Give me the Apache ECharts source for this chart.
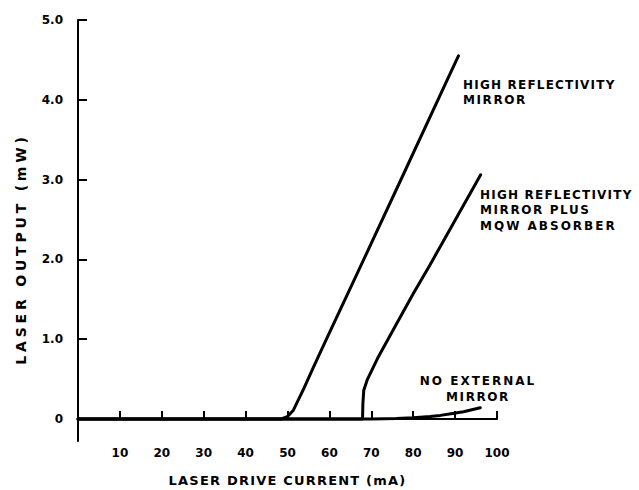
<!DOCTYPE html>
<html>
<head>
<meta charset="utf-8">
<script src="https://cdn.jsdelivr.net/npm/echarts@6/dist/echarts.min.js"></script>
<style>
  html, body { margin: 0; padding: 0; background: #fff; }
  #chart { width: 639px; height: 490px; }
</style>
</head>
<body>
<div id="chart"></div>
<script>
// ---- data ----
const xTicks = [0, 10, 20, 30, 40, 50, 60, 70, 80, 90, 100];
const yTicks = [0, 1, 2, 3, 4, 5];

const highReflectivity = [
  [0, 0], [48.5, 0], [50, 0.03], [51.4, 0.11], [53.8, 0.37], [56.2, 0.65],
  [59.1, 0.98], [66.7, 1.83], [77.7, 3.07], [88.4, 4.28], [90.8, 4.55]
];
const highReflectivityMqw = [
  [0, 0], [67.9, 0], [68.0, 0.2], [68.2, 0.36], [69.1, 0.5], [71.5, 0.76],
  [73.8, 0.98], [76.2, 1.21], [80, 1.57], [84.1, 1.94], [90, 2.49], [96.1, 3.06]
];
const noExternalMirror = [
  [0, 0], [70, 0], [76, 0.005], [80, 0.015], [84, 0.03], [86.5, 0.045],
  [89, 0.065], [92, 0.09], [94, 0.115], [96, 0.14]
];

const FONT = 'DejaVu Sans';
const chart = echarts.init(document.getElementById('chart'), null, { renderer: 'svg' });

const lineSeries = (name, data) => ({
  name, type: 'line', data, showSymbol: false, symbol: 'none',
  lineStyle: { color: '#000', width: 3, join: 'round', cap: 'round' },
  animation: false, silent: true
});

chart.setOption({
  animation: false,
  grid: { left: 78, right: 142, top: 20, bottom: 49, containLabel: false, outerBoundsMode: 'none' },
  xAxis: {
    type: 'value', min: 0, max: 100, interval: 10,
    name: 'LASER DRIVE CURRENT (mA)', nameLocation: 'middle', nameGap: 33,
    nameTextStyle: { fontFamily: FONT, fontWeight: 'bold', fontSize: 13, color: '#000' },
    axisLine: { show: true, lineStyle: { color: '#000', width: 2 } },
    axisTick: { show: true, inside: true, length: 8, lineStyle: { color: '#000', width: 2 } },
    axisLabel: {
      margin: 6, fontFamily: FONT, fontWeight: 'bold', fontSize: 12, color: '#000',
      formatter: v => (v === 0 ? '' : String(v))
    },
    splitLine: { show: false }
  },
  yAxis: {
    type: 'value', min: -0.276, max: 5,
    axisLine: { show: true, lineStyle: { color: '#000', width: 2 } },
    axisTick: { show: true, inside: true, length: 9, customValues: yTicks, lineStyle: { color: '#000', width: 2 } },
    axisLabel: {
      margin: 15, fontFamily: FONT, fontWeight: 'bold', fontSize: 12, color: '#000',
      customValues: yTicks,
      formatter: v => (v === 0 ? '0' : v.toFixed(1))
    },
    splitLine: { show: false }
  },
  graphic: [
    { type: 'text', x: 21, y: 249, rotation: Math.PI / 2,
      style: { text: 'LASER OUTPUT (mW)', fill: '#000', font: 'bold 14px "' + FONT + '"', align: 'center', verticalAlign: 'middle' } },
    { type: 'text', x: 463, y: 77,
      style: { text: 'HIGH REFLECTIVITY\nMIRROR', fill: '#000', font: 'bold 12px "' + FONT + '"', lineHeight: 15, align: 'left', verticalAlign: 'top' } },
    { type: 'text', x: 480, y: 187,
      style: { text: 'HIGH REFLECTIVITY\nMIRROR PLUS\nMQW ABSORBER', fill: '#000', font: 'bold 12px "' + FONT + '"', lineHeight: 15.5, align: 'left', verticalAlign: 'top' } },
    { type: 'text', x: 478, y: 373,
      style: { text: 'NO EXTERNAL\nMIRROR', fill: '#000', font: 'bold 12px "' + FONT + '"', lineHeight: 16, align: 'center', verticalAlign: 'top' } }
  ],
  series: [
    lineSeries('High reflectivity mirror', highReflectivity),
    lineSeries('High reflectivity mirror plus MQW absorber', highReflectivityMqw),
    lineSeries('No external mirror', noExternalMirror)
  ]
});

// widen letter spacing of the typewriter-like lettering
const SPACING = {
  'LASER OUTPUT (mW)': 3.8,
  'LASER DRIVE CURRENT (mA)': 1.2,
  'HIGH REFLECTIVITY': 1.2,
  'MIRROR': 1.6,
  'MIRROR PLUS': 1.6,
  'MQW ABSORBER': 2.0,
  'NO EXTERNAL': 2.0
};
function applySpacing() {
  document.querySelectorAll('#chart text').forEach(t => {
    const s = t.textContent.trim();
    if (SPACING[s] != null) t.style.letterSpacing = SPACING[s] + 'px';
  });
}
chart.on('finished', applySpacing);
setTimeout(applySpacing, 50);
setTimeout(applySpacing, 300);
</script>
</body>
</html>
